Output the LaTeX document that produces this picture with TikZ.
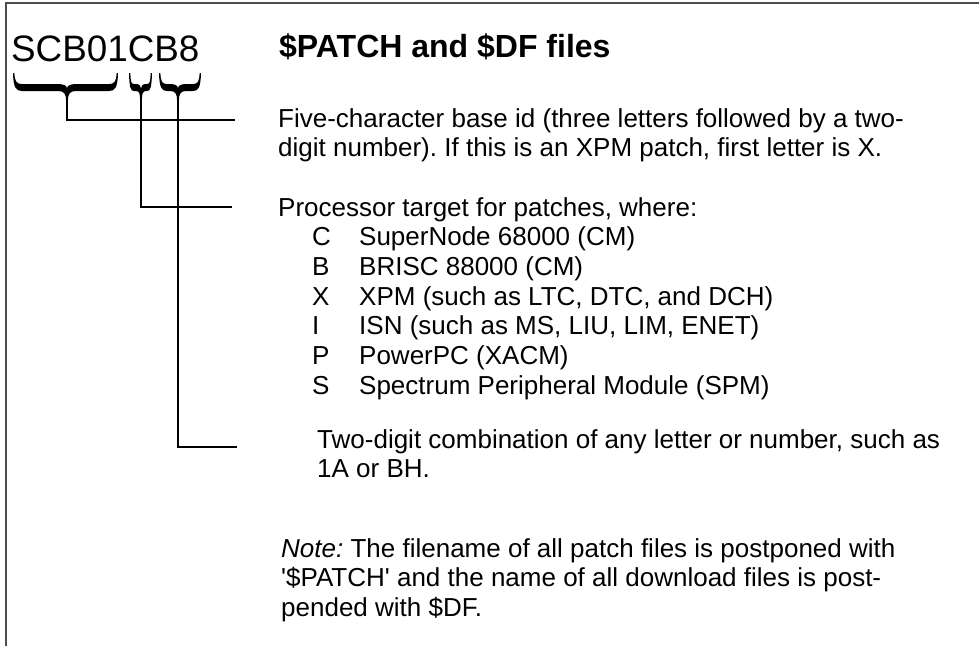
\documentclass[tikz,border=0pt]{standalone}
\usepackage{fontspec}
\setmainfont{Liberation Sans}

% heavy underbrace: left x, tip x, right x, curl size
\newcommand{\idbrace}[4]{%
  \fill (#1,73) .. controls (#1+0.4,88) and (#1+0.35*#4,91) .. (#1+#4,91)
    -- (#2-#4,91) .. controls (#2-0.3*#4,91) and (#2-0.9,94) .. (#2-0.9,101)
    -- (#2+0.9,101) .. controls (#2+0.9,94) and (#2+0.3*#4,91) .. (#2+#4,91)
    -- (#3-#4,91) .. controls (#3-0.35*#4,91) and (#3-0.4,88) .. (#3,73)
    -- (#3-1.4,73) .. controls (#3-1.6,82) and (#3-0.45*#4,84) .. (#3-#4,84)
    -- (#2+#4,84) .. controls (#2+0.3*#4,84) and (#2,86) .. (#2,88.5)
    .. controls (#2,86) and (#2-0.3*#4,84) .. (#2-#4,84)
    -- (#1+#4,84) .. controls (#1+0.45*#4,84) and (#1+1.6,82) .. (#1+1.4,73) -- cycle;}
\newcommand{\cpu}[2]{\hspace*{34pt}\makebox[47pt][l]{#1}#2}

\tikzset{
  leader/.style={line width=1.6pt},
  body/.style={font=\fontsize{26}{29.7}\selectfont\frenchspacing,anchor=north west,inner sep=0pt,align=left},
}

\begin{document}
\begin{tikzpicture}[x=1pt,y=-1pt]
  \useasboundingbox (0,0) rectangle (979,646);
  \draw[black!70,line width=1.4pt] (6,646) -- (6,3) -- (979,3);

  \node[anchor=base west,inner sep=0pt,font=\fontsize{36.8}{40}\selectfont] (id) at (11,61) {SCB01CB8};
  \node[anchor=base west,inner sep=0pt,font=\fontsize{32}{36}\selectfont\bfseries] (title) at (279,57) {\$PATCH and \$DF files};

  \idbrace{13}{67}{118}{9}
  \idbrace{129}{141}{152}{5}
  \idbrace{159}{178}{201}{8}

  \node[body] (baseid) at (278,106.2) {\strut Five-character base id (three letters followed by a two-\\
    digit number). If this is an XPM patch, first letter is X.};
  \node[body] (target) at (278,195.2) {\strut Processor target for patches, where:\\
    \cpu{C}{SuperNode 68000 (CM)}\\
    \cpu{B}{BRISC 88000 (CM)}\\
    \cpu{X}{XPM (such as LTC, DTC, and DCH)}\\
    \cpu{I}{ISN (such as MS, LIU, LIM, ENET)}\\
    \cpu{P}{PowerPC (XACM)}\\
    \cpu{S}{Spectrum Peripheral Module (SPM)}};
  \node[body] (combo) at (317,427.2) {\strut Two-digit combination of any letter or number, such as\\
    1A or BH.};
  \node[body] (note) at (281,536.2) {\strut{\itshape Note:} The filename of all patch files is postponed with\\
    \textquotesingle\$PATCH\textquotesingle{} and the name of all download files is post-\\
    pended with \$DF.};

  % leaders from the braces
  \coordinate (tipbase) at (67,100);
  \coordinate (tipcpu) at (141,100);
  \coordinate (tipcombo) at (178,100);
  \coordinate (endbase) at (235,120);
  \coordinate (endcpu) at (232,207);
  \coordinate (endcombo) at (237,447);
  \draw[leader] (tipbase) |- (endbase);
  \draw[leader] (tipcpu) |- (endcpu);
  \draw[leader] (tipcombo) |- (endcombo);
\end{tikzpicture}
\end{document}
